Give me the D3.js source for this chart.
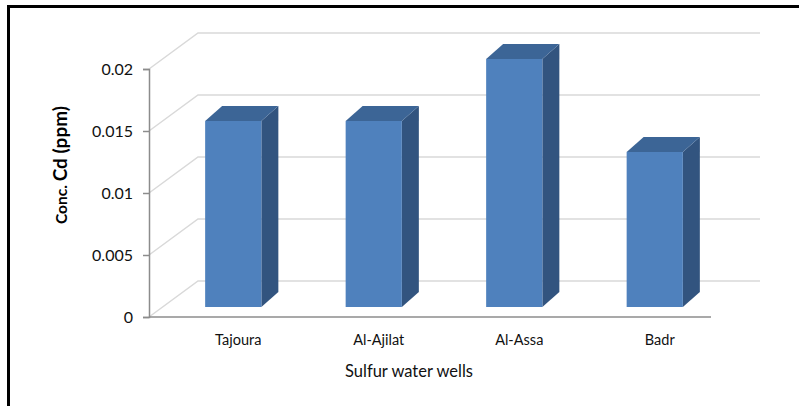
<!DOCTYPE html>
<html>
<head>
<meta charset="utf-8">
<script src="https://cdn.jsdelivr.net/npm/d3@7"></script>
<style>
  html, body { margin: 0; padding: 0; background: #fff; }
  svg { display: block; font-family: Lato, "Open Sans", sans-serif; }
</style>
</head>
<body>
<svg id="chart" width="799" height="406"></svg>
<script>
// Cd concentration in sulfur water wells
const wells = ["Tajoura", "Al-Ajilat", "Al-Assa", "Badr"];
const cdValues = [0.015, 0.015, 0.02, 0.0125];
const yTicks = [0, 0.005, 0.01, 0.015, 0.02];
const yTickLabels = ["0", "0.005", "0.01", "0.015", "0.02"];

const svg = d3.select("#chart");

// plot geometry (front floor edge, y range, and the 3D depth of the box)
const x0 = 149, x1 = 711;
const depth = { dx: 49, dy: -36 };
const barFront = { dx: 14, dy: -10 };
const barBack = { dx: 31, dy: -25 };

const x = d3.scaleBand().domain(wells).range([x0, x1]).paddingInner(0.6).paddingOuter(0.3);
const band = d3.scaleBand().domain(wells).range([x0, x1]);
const y = d3.scaleLinear().domain([0, 0.02]).range([317, 69]);

const gridColor = "#d9d9d9";
const axisColor = "#8c8c8c";

// side wall diagonals and back wall gridlines
const grid = svg.append("g");
yTicks.forEach(t => {
  const yy = y(t);
  grid.append("path")
    .attr("d", `M${x0},${yy} L${x0 + depth.dx},${yy + depth.dy} L${x1 + depth.dx},${yy + depth.dy}`)
    .attr("fill", "none").attr("stroke", gridColor).attr("stroke-width", 1.5);
});

// bars: front, top and right side faces
const bars = svg.append("g");
wells.forEach((w, i) => {
  const v = cdValues[i];
  const bx = x(w), bw = x.bandwidth();
  const yb = y(0), yt = y(v);
  const fl = bx + barFront.dx, fr = bx + bw + barFront.dx;
  const ft = yt + barFront.dy, fb = yb + barFront.dy;
  const ddx = barBack.dx - barFront.dx, ddy = barBack.dy - barFront.dy;
  // side
  bars.append("path")
    .attr("d", `M${fr},${ft} L${fr + ddx},${ft + ddy} L${fr + ddx},${fb + ddy} L${fr},${fb} Z`)
    .attr("fill", "#32547f");
  // top
  bars.append("path")
    .attr("d", `M${fl},${ft} L${fl + ddx},${ft + ddy} L${fr + ddx},${ft + ddy} L${fr},${ft} Z`)
    .attr("fill", "#3c6596");
  // front
  bars.append("rect")
    .attr("x", fl).attr("y", ft).attr("width", bw).attr("height", fb - ft)
    .attr("fill", "#4f81bd");
});

// y axis
const yAxis = d3.axisLeft(y).tickValues(yTicks)
  .tickFormat((d, i) => yTickLabels[i]).tickSize(6).tickPadding(10);
const gy = svg.append("g").attr("transform", `translate(${x0},0)`).call(yAxis);
gy.select(".domain").attr("stroke", axisColor).attr("stroke-width", 1.5);
gy.selectAll(".tick line").attr("stroke", axisColor).attr("stroke-width", 1.5);
gy.selectAll(".tick text").attr("fill", "#111").style("font-size", "16px")
  .style("font-family", "Lato, 'Open Sans', sans-serif");

// front floor edge
svg.append("line").attr("x1", x0).attr("x2", x1).attr("y1", y(0)).attr("y2", y(0))
  .attr("stroke", axisColor).attr("stroke-width", 1.5);

// category labels
svg.append("g").selectAll("text").data(wells).join("text")
  .attr("x", d => band(d) + band.bandwidth() / 2 + 19)
  .attr("y", 345)
  .attr("text-anchor", "middle")
  .attr("fill", "#111")
  .style("font-size", "14.5px")
  .text(d => d);

// axis titles
svg.append("text").attr("x", 409).attr("y", 377).attr("text-anchor", "middle")
  .attr("fill", "#111")
  .style("font-size", "16.5px").text("Sulfur water wells");

const yt = svg.append("text")
  .attr("transform", "translate(67,165) rotate(-90)")
  .attr("text-anchor", "middle")
  .style("font-weight", "bold");
yt.append("tspan").style("font-size", "15.5px").text("Conc. ");
yt.append("tspan").style("font-size", "19px").text("Cd  (ppm)");

// outer frame (top and left edges)
svg.append("path").attr("d", "M8.5,406 L8.5,6.5 L799,6.5")
  .attr("fill", "none").attr("stroke", "#000").attr("stroke-width", 3);
</script>
</body>
</html>
